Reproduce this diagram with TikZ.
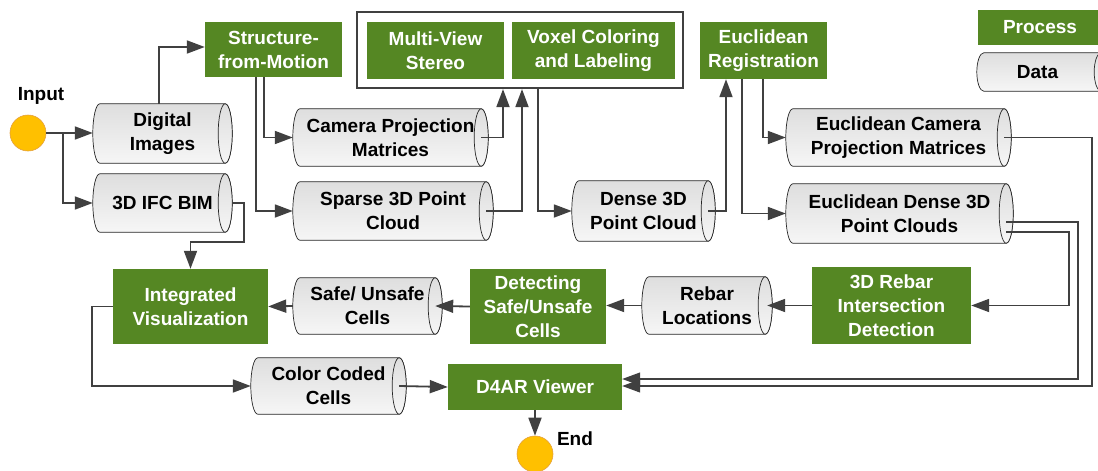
\documentclass[tikz,border=0pt]{standalone}
\usepackage{fontspec}
\setmainfont{Liberation Sans}
\usetikzlibrary{arrows.meta,calc,backgrounds}
\definecolor{procgreen}{RGB}{85,135,35}
\definecolor{lc}{RGB}{64,64,64}
\definecolor{cyltop}{RGB}{222,222,222}
\definecolor{cylbot}{RGB}{246,246,246}
\definecolor{startfill}{RGB}{255,192,0}
\definecolor{startdraw}{RGB}{228,160,60}
\newcommand\cylbg[1]{%
  \path[draw=black!85, line width=0.7pt, top color=cyltop, bottom color=cylbot]
    let \p1=(#1.north west), \p2=(#1.south east), \n2={(\y1-\y2)/2} in
    (\x1+7pt,\y1) -- (\x2-7pt,\y1)
    arc[start angle=90, end angle=-90, x radius=7pt, y radius={\n2*1pt}]
    -- (\x1+7pt,\y2)
    arc[start angle=270, end angle=90, x radius=7pt, y radius={\n2*1pt}] -- cycle;
  \path[draw=black!85, line width=0.7pt, top color=cyltop, bottom color=cylbot]
    let \p1=(#1.north west), \p2=(#1.south east), \n2={(\y1-\y2)/2} in
    (\x2-7pt,\y1/2+\y2/2) ellipse[x radius=7pt, y radius={\n2*1pt}];
}
\begin{document}
\begin{tikzpicture}[x=1pt, y=-1pt,
  txt/.style={font=\bfseries\fontsize{19pt}{24pt}\selectfont, align=center, inner sep=0pt},
  proc/.style={txt, rectangle, fill=procgreen, text=white},
  data/.style={txt, rectangle, text=black},
  arr/.style={draw=lc, line width=1.8pt, -{Triangle[length=18pt,width=13pt]}},
  thinarr/.style={arr, line width=1.2pt},
  terminal/.style={circle, fill=startfill, draw=startdraw, line width=0.6pt, minimum size=36pt, inner sep=0pt},
  lbl/.style={txt, text=black}]
\useasboundingbox (0,0) rectangle (1098,471);

% legend
\node[proc, minimum width=124pt, minimum height=35pt] (process) at (1040,27.5) {Process};
\node[data, minimum width=131pt, minimum height=38pt] (datalg) at (1042.5,72) {\hspace*{-10pt}Data};

% terminals
\node[terminal] (input) at (28,133) {};
\node[lbl] (inputlbl) at (41,96) {Input};
\node[terminal] (end) at (535,454) {};
\node[lbl] (endlbl) at (575,439) {End};

% process boxes
\node[proc, minimum width=137pt, minimum height=55pt] (sfm) at (273.5,49.5) {Structure-\\from-Motion};
\node[rectangle, draw=lc, line width=2.2pt, fill=white, minimum width=326pt, minimum height=76pt, inner sep=0pt] (frame) at (520,50) {};
\node[proc, minimum width=137pt, minimum height=57pt] (mvs) at (435.5,50.5) {Multi-View\\Stereo};
\node[proc, minimum width=163pt, minimum height=57pt] (voxel) at (593.5,50.5) {Voxel Coloring\\and Labeling};
\node[proc, minimum width=127pt, minimum height=57pt] (er) at (763.5,50.5) {Euclidean\\Registration};
\node[proc, minimum width=155pt, minimum height=75pt] (iv) at (190.5,306.5) {Integrated\\Visualization};
\node[proc, minimum width=136pt, minimum height=75pt] (detect) at (538,306.5) {Detecting\\Safe/Unsafe\\Cells};
\node[proc, minimum width=159pt, minimum height=77pt] (rebar3d) at (891.5,305.5) {3D Rebar\\Intersection\\Detection};
\node[proc, minimum width=174pt, minimum height=46pt] (d4ar) at (535,387) {D4AR Viewer};

% data cylinders
\node[data, minimum width=139pt, minimum height=59pt] (di) at (162.5,133.5) {Digital\\Images};
\node[data, minimum width=139pt, minimum height=58pt] (bim) at (162.5,203) {3D IFC BIM};
\node[data, minimum width=195pt, minimum height=57pt] (cpm) at (390.5,137.5) {Camera Projection\\Matrices};
\node[data, minimum width=200pt, minimum height=58pt] (sparse) at (393,211) {Sparse 3D Point\\Cloud};
\node[data, minimum width=143pt, minimum height=60pt] (dense) at (643.5,211) {Dense 3D\\Point Cloud};
\node[data, minimum width=225pt, minimum height=57pt] (ecpm) at (898.5,137.5) {Euclidean Camera\\Projection Matrices};
\node[data, minimum width=227pt, minimum height=59pt] (edpc) at (899.5,213.5) {Euclidean Dense 3D\\Point Clouds};
\node[data, minimum width=149pt, minimum height=56pt] (safe) at (367.5,306) {Safe/ Unsafe\\Cells};
\node[data, minimum width=155pt, minimum height=56pt] (ccc) at (328.5,386) {Color Coded\\Cells};
\node[data, minimum width=130pt, minimum height=57pt] (rebarloc) at (707,305.5) {Rebar\\Locations};

\begin{scope}[on background layer]
  \foreach \nm in {datalg,di,bim,cpm,sparse,dense,ecpm,edpc,safe,ccc,rebarloc} {\cylbg{\nm}}
\end{scope}

% helper coordinates
\coordinate (j1) at (63,133);
\coordinate (b1) at (244,242);
\coordinate (j2) at (92,306.5);
\coordinate (r1) at (1069,232);
\coordinate (r2) at (1078,222);
\coordinate (r3) at (1092,137.5);

% connectors
\draw[arr] (input.east) -- (input.east -| di.west);
\draw[arr] (j1) |- (bim.west);
\draw[arr] ([xshift=-3.5pt]di.north) |- ([yshift=2.5pt]sfm.west);
\draw[arr] (bim.east) -| (b1) -| (iv.north);
\draw[arr] ([xshift=-9.5pt]sfm.south) |- (cpm.west);
\draw[arr] ([xshift=-17.5pt]sfm.south) |- (sparse.west);
\draw[arr] ([xshift=-7pt]cpm.east) -| ([xshift=-17pt]frame.south);
\draw[arr] ([xshift=-7pt]sparse.east) -| ([xshift=2pt]frame.south);
\draw[arr] ([xshift=18pt]frame.south) |- (dense.west);
\draw[arr] ([xshift=-7pt]dense.east) -| ([xshift=-37.5pt]er.south);
\draw[arr] ([xshift=-0.5pt]er.south) |- (ecpm.west);
\draw[arr] ([xshift=-21.5pt]er.south) |- (edpc.west);
\draw[thinarr] ([xshift=-7pt]ecpm.east) -- (r3) |- ([yshift=1pt]d4ar.east);
\draw[thinarr] ([xshift=-7pt,yshift=-8.5pt]edpc.east) -- (r2) |- ([yshift=8pt]d4ar.east);
\draw[arr] ([xshift=-7pt,yshift=-18.5pt]edpc.east) -- (r1) |- (rebar3d.east);
\draw[arr] (rebar3d.west) -- ([xshift=-5pt]rebarloc.east);
\draw[arr] (rebarloc.west) -- (rebarloc.west -| detect.east);
\draw[arr] (detect.west) -- ([xshift=-7pt]safe.east);
\draw[arr] (safe.west) -- (iv.east);
\draw[arr] (iv.west) -- (j2) |- (ccc.west);
\draw[arr] ([xshift=-7pt]ccc.east) -- (d4ar.west);
\draw[arr] (d4ar.south) -- (end.north);
\end{tikzpicture}
\end{document}
